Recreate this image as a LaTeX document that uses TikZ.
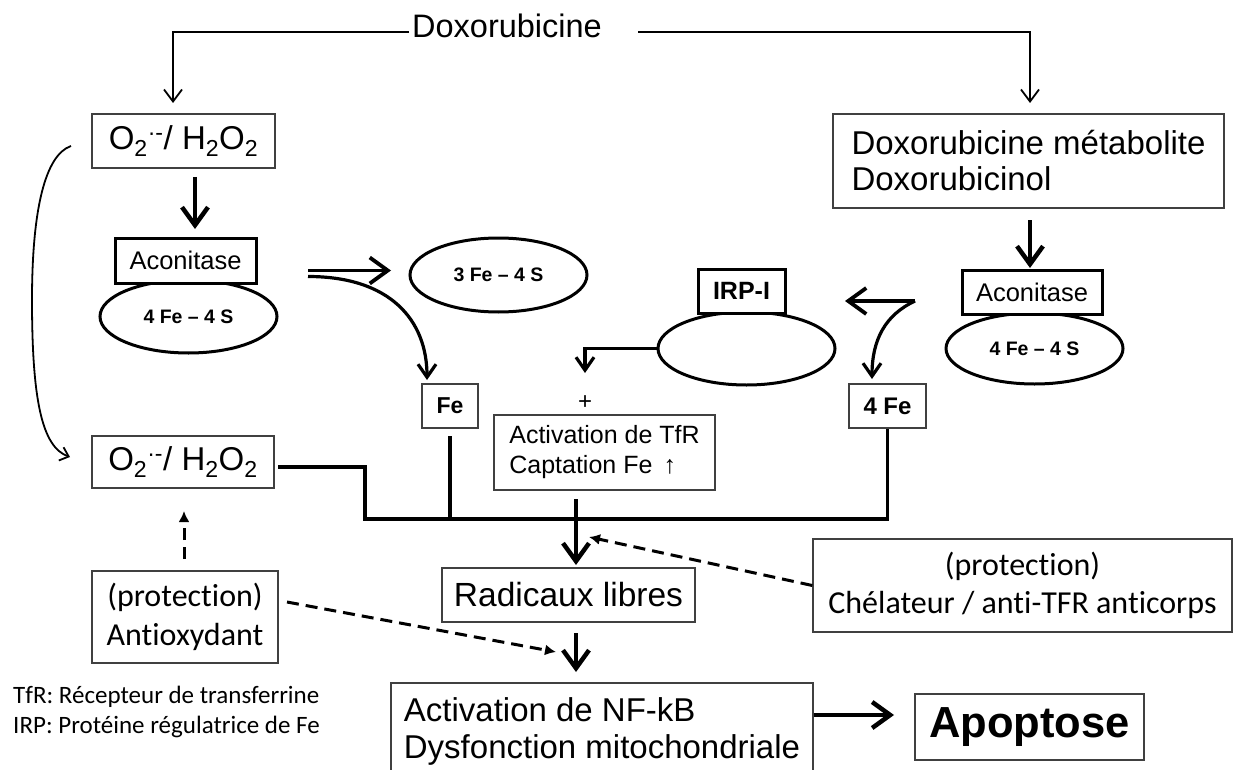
\documentclass[tikz,border=0pt]{standalone}
\usepackage{fontspec}
\setmainfont{Liberation Sans}
\newfontfamily\calib[Ligatures=NoCommon]{Carlito}
\usetikzlibrary{arrows.meta,shapes.geometric}
\newcommand\fsz[2]{\fontsize{#1pt}{#2pt}\selectfont}
\begin{document}
\begin{tikzpicture}[x=1pt,y=-1pt,
  box/.style={draw=black!75, line width=1.4pt, inner sep=0pt, fill=white},
  tbox/.style={draw=black, line width=3pt, inner sep=0pt, fill=white},
  ell/.style={ellipse, draw=black, line width=3pt, inner sep=0pt},
  thinarr/.style={line width=1.8pt, -{Straight Barb[length=12pt,width=18pt]}},
  bigarr/.style={line width=4.5pt, -{Straight Barb[length=18pt,width=26pt]}},
  medarr/.style={line width=3.2pt, -{Straight Barb[length=13pt,width=18pt]}},
  dasharr/.style={line width=3pt, dash pattern=on 12pt off 7pt, -{Latex[length=11pt,width=11pt]}},
  trunk/.style={line width=3.5pt}]
\useasboundingbox (0,0) rectangle (1233,770);

% top
\node[anchor=base, inner sep=0pt, font=\fsz{32.5}{38}] (doxo) at (507,38) {Doxorubicine};
\coordinate (dl) at (409,32);
\coordinate (dr) at (638,32);
\coordinate (tl) at (173,103);
\coordinate (tr) at (1030,103);

% left column
\node[box, minimum width=183pt, minimum height=54pt, font=\fsz{33}{40}] (o2a) at (183.5,141)
  {O\textsubscript{2}\textsuperscript{·-}/ H\textsubscript{2}O\textsubscript{2}};
\node[ell, minimum width=177pt, minimum height=73pt, font=\bfseries\fsz{19.5}{23}] (ellA) at (188.5,316.5) {4 Fe -- 4 S};
\node[tbox, minimum width=141pt, minimum height=45pt, font=\fsz{25.5}{30}] (acoA) at (185.5,260.5) {Aconitase};
\node[box, minimum width=182pt, minimum height=52pt, font=\fsz{33}{40}] (o2b) at (183,462)
  {O\textsubscript{2}\textsuperscript{·-}/ H\textsubscript{2}O\textsubscript{2}};
\node[box, minimum width=186pt, minimum height=92pt, align=center, font=\calib\fsz{32}{39}] (anti) at (185,617)
  {(protection)\\Antioxydant};
\node[anchor=base west, inner sep=0pt, font=\calib\fsz{25}{30}] (leg1) at (13,703) {TfR: Récepteur de transferrine};
\node[anchor=base west, inner sep=0pt, font=\calib\fsz{25}{30}] (leg2) at (13,733) {IRP: Protéine régulatrice de Fe};

% middle
\node[ell, minimum width=177pt, minimum height=74pt, font=\bfseries\fsz{19.5}{23}] (ell3) at (498.5,275) {3 Fe -- 4 S};
\node[box, minimum width=56pt, minimum height=44pt, font=\bfseries\fsz{23}{27}] (fe) at (450,406) {Fe};
\node[inner sep=0pt, font=\fsz{24}{27}] (plus) at (585,403) {+};
\node[box, minimum width=221pt, minimum height=75pt, align=left, font=\fsz{25}{30}] (act) at (604.5,452.5)
  {Activation de TfR\\Captation Fe \,↑};
\node[ell, minimum width=177pt, minimum height=73pt] (ellI) at (746.5,348.5) {};
\node[tbox, minimum width=87pt, minimum height=44pt, font=\bfseries\fsz{25}{29}] (irp) at (741.5,291) {IRP-I};
\node[box, minimum width=253pt, minimum height=54pt, font=\fsz{33.5}{38}] (rad) at (568.5,595) {Radicaux libres};
\node[box, minimum width=422pt, minimum height=97pt, align=left, font=\fsz{33}{37}] (nf) at (602,731.5)
  {Activation de NF-kB\\Dysfonction mitochondriale};

% right column
\node[box, minimum width=391pt, minimum height=94pt, align=left, font=\fsz{33}{36}] (meta) at (1028.5,161)
  {Doxorubicine métabolite\\Doxorubicinol};
\node[ell, minimum width=177pt, minimum height=71pt, font=\bfseries\fsz{19.5}{23}] (ellB) at (1034.5,348.5) {4 Fe -- 4 S};
\node[tbox, minimum width=140pt, minimum height=44pt, font=\fsz{25.5}{30}] (acoB) at (1032,292) {Aconitase};
\node[box, minimum width=77pt, minimum height=44pt, font=\bfseries\fsz{24}{28}] (fe4) at (887.5,406) {4 Fe};
\node[box, minimum width=419pt, minimum height=93pt, align=center, font=\calib\fsz{32}{38}] (chel) at (1022.5,585.5)
  {(protection)\\Chélateur / anti-TFR anticorps};
\node[box, minimum width=229pt, minimum height=66pt, font=\bfseries\fsz{43.5}{50}] (apo) at (1029.5,727) {Apoptose};

% connectors: top
\draw[thinarr] (dl) -| (tl);
\draw[thinarr] (dr) -| (tr);

% left loop
\coordinate (lc1) at (71,146);
\coordinate (lc2) at (70,457);
\draw[line width=1.8pt, -{Straight Barb[length=8pt,width=14pt]}] (lc1) .. controls (45,155) and (32,210) .. (32,300)
  .. controls (32,400) and (42,447) .. (lc2);

% O2 -> aconitase
\coordinate (a1) at (195,177);
\coordinate (a2) at (195,229);
\draw[bigarr] (a1) -- (a2);

% aconitase -> 3Fe-4S and Fe
\coordinate (s1) at (308,270.5);
\coordinate (s2) at (391,270.5);
\coordinate (c1) at (308,276.5);
\coordinate (c2) at (427,380);
\draw[bigarr, line width=3.8pt] (s1) -- (s2);
\draw[medarr] (c1) .. controls (390,276.5) and (427,320) .. (c2);

% IRP -> +
\coordinate (p1) at (585,373);
\draw[medarr] (ellI.west) -| (p1);

% right branch
\coordinate (b0) at (915,301);
\coordinate (b1) at (845,301);
\coordinate (b2) at (872,379);
\draw[bigarr, line width=3.8pt] (b0) -- (b1);
\draw[medarr] (b0) .. controls (885,315) and (872,340) .. (b2);

% metabolite -> aconitase
\coordinate (m1) at (1030,220);
\coordinate (m2) at (1030,268);
\draw[bigarr] (m1) -- (m2);

% trunk
\coordinate (t0) at (278,467);
\coordinate (t1) at (365,467);
\coordinate (t2) at (365,519);
\coordinate (t3) at (887.5,519);
\coordinate (f1) at (450,436);
\coordinate (f2) at (450,519);
\draw[trunk, line join=miter] (t0) -- (t1) -- (t2) -- (t3) -- (fe4.south);
\draw[trunk] (f1) -- (f2);

% activation -> radicaux -> NF
\coordinate (r1) at (576,499);
\coordinate (r2) at (576,565);
\draw[bigarr] (r1) -- (r2);
\coordinate (r3) at (576,633);
\coordinate (r4) at (576,672);
\draw[bigarr] (r3) -- (r4);

% NF -> apoptose
\coordinate (n2) at (894,715);
\draw[bigarr] (nf.east |- n2) -- (n2);

% dashed protections
\coordinate (d1) at (184,559);
\coordinate (d2) at (184,511);
\draw[dasharr] (d1) -- (d2);
\coordinate (d3) at (287,602);
\coordinate (d4) at (556,652);
\draw[dasharr] (d3) -- (d4);
\coordinate (d5) at (589,537);
\draw[dasharr] (chel.west) -- (d5);
\end{tikzpicture}
\end{document}
